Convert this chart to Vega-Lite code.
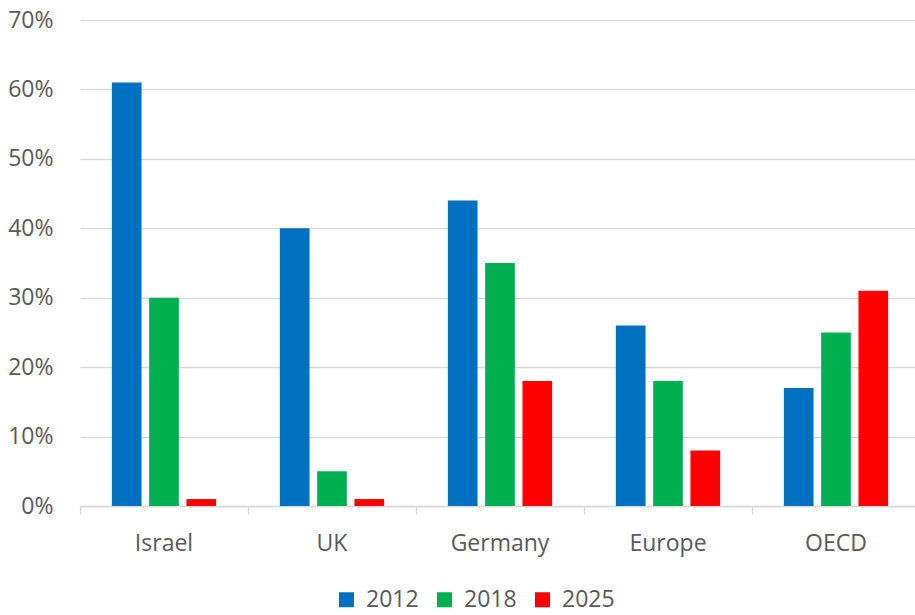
{
  "$schema": "https://vega.github.io/schema/vega-lite/v6.json",
  "width": 835,
  "height": 486,
  "autosize": {"type": "none"},
  "padding": {"left": 80, "top": 20, "right": 0, "bottom": 109},
  "background": "white",
  "config": {"view": {"stroke": null}},
  "data": {
    "values": [
      {"region": "Israel", "year": "2012", "value": 0.61},
      {"region": "Israel", "year": "2018", "value": 0.30},
      {"region": "Israel", "year": "2025", "value": 0.01},
      {"region": "UK", "year": "2012", "value": 0.40},
      {"region": "UK", "year": "2018", "value": 0.05},
      {"region": "UK", "year": "2025", "value": 0.01},
      {"region": "Germany", "year": "2012", "value": 0.44},
      {"region": "Germany", "year": "2018", "value": 0.35},
      {"region": "Germany", "year": "2025", "value": 0.18},
      {"region": "Europe", "year": "2012", "value": 0.26},
      {"region": "Europe", "year": "2018", "value": 0.18},
      {"region": "Europe", "year": "2025", "value": 0.08},
      {"region": "OECD", "year": "2012", "value": 0.17},
      {"region": "OECD", "year": "2018", "value": 0.25},
      {"region": "OECD", "year": "2025", "value": 0.31}
    ]
  },
  "mark": {"type": "bar"},
  "encoding": {
    "x": {
      "field": "region",
      "type": "nominal",
      "sort": ["Israel", "UK", "Germany", "Europe", "OECD"],
      "scale": {"range": [0, 840], "paddingInner": 0, "paddingOuter": 0},
      "axis": {
        "title": null,
        "bandPosition": 0,
        "labelAngle": 0,
        "labelFont": "Open Sans",
        "labelFontSize": 23,
        "labelColor": "#595959",
        "labelPadding": 18,
        "tickSize": 8,
        "tickColor": "#D9D9D9",
        "tickWidth": 1.3,
        "domainColor": "#D9D9D9",
        "domainWidth": 1.3,
        "grid": false
      }
    },
    "xOffset": {
      "field": "year",
      "type": "nominal",
      "scale": {"paddingInner": 0.204, "paddingOuter": 0.854}
    },
    "y": {
      "field": "value",
      "type": "quantitative",
      "scale": {"domain": [0, 0.7], "nice": false},
      "axis": {
        "title": null,
        "format": ".0%",
        "values": [0, 0.1, 0.2, 0.3, 0.4, 0.5, 0.6, 0.7],
        "labelFont": "Open Sans",
        "labelFontSize": 23,
        "labelColor": "#595959",
        "labelPadding": 27,
        "ticks": false,
        "tickSize": 0,
        "domain": false,
        "grid": true,
        "gridColor": "#D9D9D9",
        "gridWidth": 1.3
      }
    },
    "color": {
      "field": "year",
      "type": "nominal",
      "scale": {"domain": ["2012", "2018", "2025"], "range": ["#0070C0", "#00B050", "#FF0000"]},
      "legend": {
        "title": null,
        "orient": "none",
        "direction": "horizontal",
        "legendX": 255,
        "legendY": 568,
        "symbolType": "square",
        "symbolSize": 225,
        "symbolStrokeWidth": 0,
        "symbolOpacity": 1,
        "labelFont": "Open Sans",
        "labelFontSize": 23,
        "labelColor": "#595959",
        "labelOffset": 8,
        "columnPadding": 14,
        "padding": 0
      }
    }
  }
}
